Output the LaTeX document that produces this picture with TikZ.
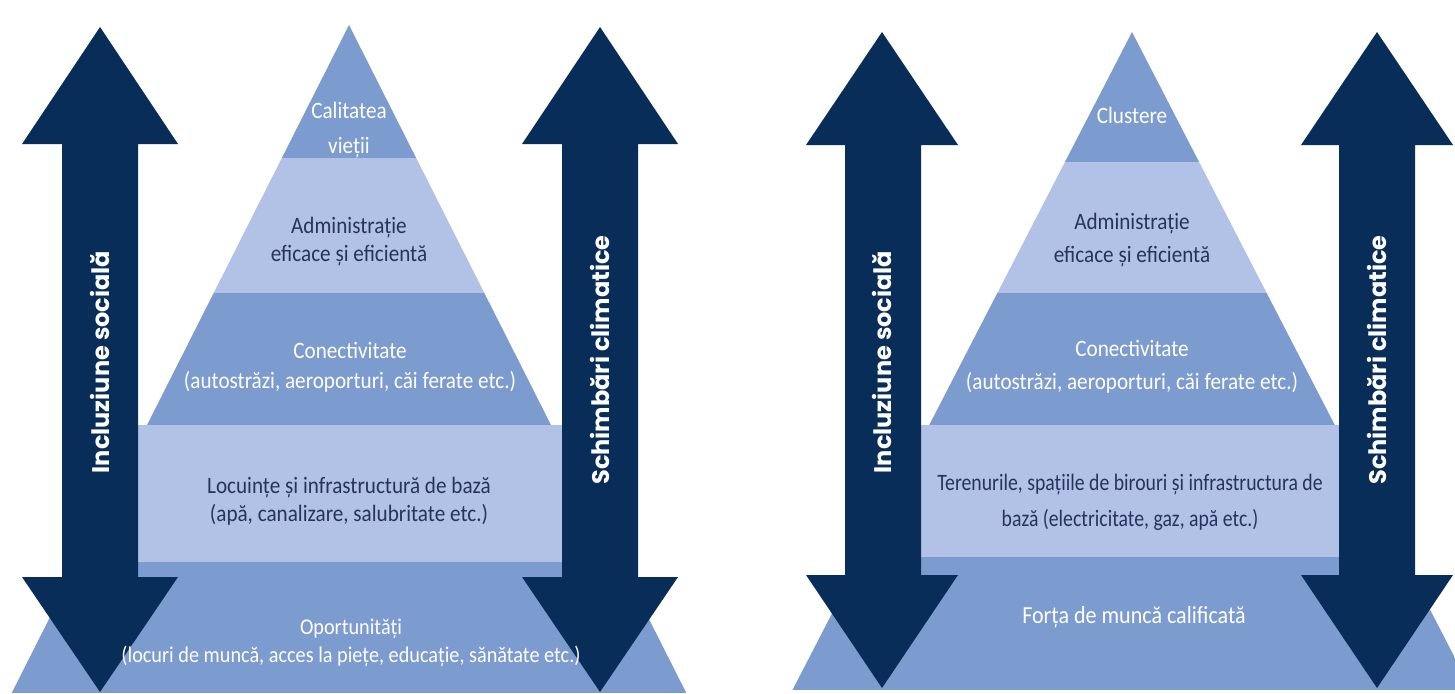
\documentclass[tikz,border=0pt]{standalone}
\usepackage{fontspec}
\setmainfont{Carlito}[FakeStretch=0.9]
\newfontfamily\narrowfont{Carlito}[FakeStretch=0.84]
\newfontfamily\arrowfont{Poppins}
\definecolor{navy}{RGB}{8,45,89}
\definecolor{bandmid}{RGB}{124,155,206}
\definecolor{bandlight}{RGB}{177,194,230}
\definecolor{textdark}{RGB}{38,52,92}
\begin{document}
\begin{tikzpicture}[x=1pt,y=-1pt,
  arrowshape/.style={fill=navy},
  midband/.style={fill=bandmid},
  lightband/.style={fill=bandlight},
  whitetext/.style={text=white, align=center, font=\fontsize{23.5}{28}\selectfont, inner sep=0pt},
  darktext/.style={text=textdark, align=center, font=\fontsize{23.5}{28}\selectfont, inner sep=0pt},
  arrowlabel/.style={text=white, rotate=90, font=\arrowfont\bfseries\fontsize{24}{28}\selectfont, inner sep=0pt}]
\useasboundingbox (0,0) rectangle (1455,693);
\fill[white] (0,0) rectangle (1455,693);

% ---------- left pyramid ----------
\begin{scope}
  \clip (349,25) -- (11.7,693) -- (686.3,693) -- cycle;
  \fill[midband] (0,20) rectangle (700,158);
  \fill[lightband] (0,158) rectangle (700,293);
  \fill[midband] (0,293) rectangle (700,425);
  \fill[midband] (0,562) rectangle (700,693);
\end{scope}
\fill[lightband] (138,425) rectangle (562,562);

% ---------- right pyramid ----------
\begin{scope}
  \clip (1132,32) -- (792.5,690) -- (1471.5,690) -- cycle;
  \fill[midband] (780,25) rectangle (1480,162);
  \fill[lightband] (780,162) rectangle (1480,293);
  \fill[midband] (780,293) rectangle (1480,425);
  \fill[midband] (780,557) rectangle (1480,690);
\end{scope}
\fill[lightband] (921,425) rectangle (1339,557);

% ---------- arrows ----------
\fill[arrowshape] (100,27) -- (178,144) -- (138,144) -- (138,577) -- (178,577) -- (100,692)
  -- (22,577) -- (62,577) -- (62,144) -- (22,144) -- cycle;
\fill[arrowshape] (600,27) -- (678,144) -- (638,144) -- (638,577) -- (678,577) -- (600,692)
  -- (522,577) -- (562,577) -- (562,144) -- (522,144) -- cycle;
\fill[arrowshape] (882,32) -- (958,145) -- (921,145) -- (921,575) -- (958,575) -- (882,688)
  -- (806,575) -- (845,575) -- (845,145) -- (806,145) -- cycle;
\fill[arrowshape] (1377,32) -- (1453,145) -- (1415,145) -- (1415,575) -- (1453,575) -- (1377,688)
  -- (1301,575) -- (1339,575) -- (1339,145) -- (1301,145) -- cycle;

\node[arrowlabel] (incL) at (100,362) {Incluziune socială};
\node[arrowlabel] (schL) at (600,360) {Schimbări climatice};
\node[arrowlabel] (incR) at (882,362) {Incluziune socială};
\node[arrowlabel] (schR) at (1377,360) {Schimbări climatice};

% ---------- left texts ----------
\node[whitetext, font=\fontsize{23.5}{35}\selectfont] (calit) at (349,130) {Calitatea\\vieții};
\node[darktext] (adminL) at (349,241) {Administrație\\eficace și eficientă};
\node[whitetext, font=\fontsize{23.5}{30}\selectfont] (conL) at (350,367) {Conectivitate\\(autostrăzi, aeroporturi, căi ferate etc.)};
\node[darktext] (locu) at (349,501) {Locuințe și infrastructură de bază\\(apă, canalizare, salubritate etc.)};
\node[whitetext, font=\fontsize{22.5}{28}\selectfont] (oport) at (351,643) {Oportunități\\(locuri de muncă, acces la piețe, educație, sănătate etc.)};

% ---------- right texts ----------
\node[whitetext] (clust) at (1132,115) {Clustere};
\node[darktext, font=\fontsize{23.5}{33}\selectfont] (adminR) at (1132,240) {Administrație\\eficace și eficientă};
\node[whitetext, font=\fontsize{23.5}{33}\selectfont] (conR) at (1132,367) {Conectivitate\\(autostrăzi, aeroporturi, căi ferate etc.)};
\node[darktext, font=\narrowfont\fontsize{23.5}{36}\selectfont] (teren) at (1130,502) {Terenurile, spațiile de birouri și infrastructura de\\bază (electricitate, gaz, apă etc.)};
\node[whitetext, font=\fontsize{24.5}{28}\selectfont] (forta) at (1134,617) {Forța de muncă calificată};
\end{tikzpicture}
\end{document}
